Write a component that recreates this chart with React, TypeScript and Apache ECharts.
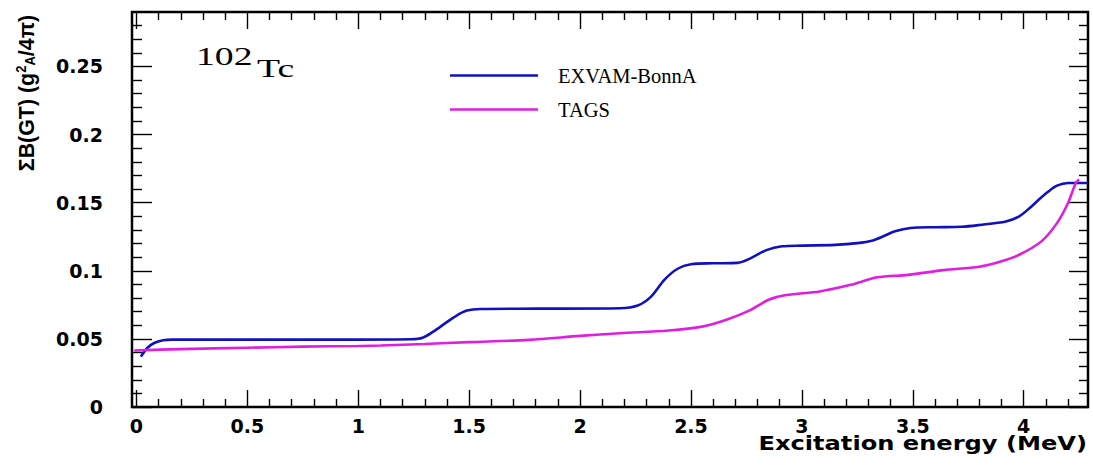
import { useEffect, useRef } from "react";
import * as echarts from "echarts";

// Cumulative Gamow-Teller strength versus excitation energy, 102Tc
const exvamBonnA: [number, number][] = [
  [0.02, 0.037], [0.05, 0.0435], [0.08, 0.047], [0.12, 0.049], [0.16, 0.0495],
  [0.5, 0.0495], [1.0, 0.0495], [1.24, 0.0497], [1.29, 0.0508], [1.34, 0.0555],
  [1.39, 0.0612], [1.44, 0.0668], [1.49, 0.0708], [1.55, 0.072], [1.8, 0.0722],
  [2.18, 0.0725], [2.26, 0.0745], [2.32, 0.081], [2.38, 0.0934], [2.44, 0.1015],
  [2.5, 0.1048], [2.6, 0.1055], [2.71, 0.1058], [2.77, 0.1093], [2.84, 0.1152],
  [2.91, 0.118], [3.0, 0.1185], [3.15, 0.119], [3.25, 0.1203], [3.32, 0.1223],
  [3.37, 0.1255], [3.42, 0.129], [3.49, 0.1314], [3.6, 0.132], [3.72, 0.1323],
  [3.8, 0.1336], [3.92, 0.1362], [3.98, 0.14], [4.03, 0.1465], [4.07, 0.1525],
  [4.11, 0.158], [4.15, 0.1625], [4.2, 0.1645], [4.29, 0.1645],
];

const tagsData: [number, number][] = [
  [-0.01, 0.0415], [0.2, 0.0425], [0.5, 0.0435], [0.75, 0.0443], [1.0, 0.0448],
  [1.1, 0.0451], [1.3, 0.0463], [1.5, 0.0476], [1.77, 0.0493], [2.0, 0.0522],
  [2.18, 0.0542], [2.4, 0.0562], [2.55, 0.059], [2.66, 0.064], [2.77, 0.0713],
  [2.85, 0.0787], [2.93, 0.0822], [3.08, 0.0848], [3.22, 0.0897], [3.34, 0.0952],
  [3.48, 0.097], [3.64, 0.1005], [3.8, 0.103], [3.9, 0.107], [3.98, 0.1118],
  [4.08, 0.1216], [4.15, 0.135], [4.2, 0.1498], [4.235, 0.1645], [4.25, 0.167],
];

const seriesNames = ["EXVAM-BonnA", "TAGS"];

const xMajorTicks = [0, 0.5, 1, 1.5, 2, 2.5, 3, 3.5, 4];
const xMinorTicks = [
  0.1, 0.2, 0.3, 0.4, 0.6, 0.7, 0.8, 0.9, 1.1, 1.2, 1.3, 1.4, 1.6, 1.7, 1.8, 1.9,
  2.1, 2.2, 2.3, 2.4, 2.6, 2.7, 2.8, 2.9, 3.1, 3.2, 3.3, 3.4, 3.6, 3.7, 3.8, 3.9,
  4.1, 4.2,
];
const yMajorTicks = [0, 0.05, 0.1, 0.15, 0.2, 0.25];
const yMinorTicks = [
  0.01, 0.02, 0.03, 0.04, 0.06, 0.07, 0.08, 0.09, 0.11, 0.12, 0.13, 0.14,
  0.16, 0.17, 0.18, 0.19, 0.21, 0.22, 0.23, 0.24, 0.26, 0.27, 0.28,
];

const X_MIN = -0.02;
const X_MAX = 4.29;
const Y_MIN = 0;
const Y_MAX = 0.29;

const tickFont = {
  fontFamily: "DejaVu Sans",
  fontWeight: "bold" as const,
  fontSize: 19,
  color: "#000",
};

function xAxisDef(
  position: "top" | "bottom",
  ticks: number[],
  length: number,
  withLabels: boolean
) {
  return {
    type: "value",
    position,
    min: X_MIN,
    max: X_MAX,
    axisLine: { show: false, onZero: false },
    splitLine: { show: false },
    axisTick: {
      show: true,
      inside: true,
      length,
      customValues: ticks,
      lineStyle: { color: "#000", width: 1.4 },
    },
    axisLabel: withLabels
      ? { show: true, customValues: ticks, margin: 9, ...tickFont }
      : { show: false },
  };
}

function yAxisDef(
  position: "left" | "right",
  ticks: number[],
  length: number,
  withLabels: boolean
) {
  return {
    type: "value",
    position,
    min: Y_MIN,
    max: Y_MAX,
    axisLine: { show: false, onZero: false },
    splitLine: { show: false },
    axisTick: {
      show: true,
      inside: true,
      length,
      customValues: ticks,
      lineStyle: { color: "#000", width: 1.4 },
    },
    axisLabel: withLabels
      ? { show: true, customValues: ticks, margin: 29, ...tickFont }
      : { show: false },
  };
}

export default function App() {
  const ref = useRef<HTMLDivElement>(null);

  useEffect(() => {
    if (!ref.current) return;
    const chart = echarts.init(ref.current, undefined, { renderer: "svg" });

    chart.setOption({
      animation: false,
      backgroundColor: "#fff",
      grid: {
        left: 132,
        right: 5,
        top: 12,
        bottom: 62,
        show: true,
        borderColor: "#000",
        borderWidth: 2.5,
      },
      legend: {
        left: 445,
        top: 60,
        orient: "vertical",
        itemWidth: 88,
        itemHeight: 2.5,
        itemGap: 13,
        icon: "rect",
        selectedMode: false,
        data: seriesNames,
        textStyle: {
          fontFamily: "Liberation Serif",
          fontSize: 20.5,
          color: "#000",
          padding: [0, 0, 0, 15],
        },
      },
      xAxis: [
        xAxisDef("bottom", xMajorTicks, 17, true),
        xAxisDef("bottom", xMinorTicks, 8, false),
        xAxisDef("top", xMajorTicks, 17, false),
        xAxisDef("top", xMinorTicks, 8, false),
      ],
      yAxis: [
        yAxisDef("left", yMajorTicks, 20, true),
        yAxisDef("left", yMinorTicks, 10, false),
        yAxisDef("right", yMajorTicks, 19, false),
        yAxisDef("right", yMinorTicks, 9, false),
      ],
      series: [
        {
          name: seriesNames[0],
          type: "line",
          data: exvamBonnA,
          xAxisIndex: 0,
          yAxisIndex: 0,
          showSymbol: false,
          smooth: 0.3,
          color: "#1010c0",
          lineStyle: { width: 2.6, color: "#1010c0" },
        },
        {
          name: seriesNames[1],
          type: "line",
          data: tagsData,
          xAxisIndex: 0,
          yAxisIndex: 0,
          showSymbol: false,
          smooth: 0.3,
          color: "#e01ee0",
          lineStyle: { width: 2.6, color: "#e01ee0" },
        },
      ],
      graphic: [
        {
          type: "text",
          x: 196,
          y: 56,
          scaleX: 1.45,
          style: {
            text: "102",
            fontFamily: "Liberation Serif",
            fontSize: 26,
            fill: "#000",
            align: "left",
            verticalAlign: "middle",
          },
        },
        {
          type: "text",
          x: 257,
          y: 68,
          scaleX: 1.45,
          style: {
            text: "Tc",
            fontFamily: "Liberation Serif",
            fontSize: 26,
            fill: "#000",
            align: "left",
            verticalAlign: "middle",
          },
        },
        {
          type: "text",
          x: 26,
          y: 93,
          rotation: Math.PI / 2,
          scaleX: 0.93,
          style: {
            text: "ΣB(GT) (g{sup|2}{sub|A}/4π)",
            fontFamily: "Liberation Sans",
            fontWeight: "bold",
            fontSize: 23,
            fill: "#000",
            align: "center",
            verticalAlign: "middle",
            rich: {
              sup: {
                fontFamily: "Liberation Sans",
                fontWeight: "bold",
                fontSize: 14,
                verticalAlign: "top",
                fill: "#000",
              },
              sub: {
                fontFamily: "Liberation Sans",
                fontWeight: "bold",
                fontSize: 14,
                verticalAlign: "bottom",
                fill: "#000",
              },
            },
          },
        },
        {
          type: "text",
          x: 1087,
          y: 443,
          scaleX: 1.27,
          style: {
            text: "Excitation energy (MeV)",
            fontFamily: "DejaVu Sans",
            fontWeight: "bold",
            fontSize: 19,
            fill: "#000",
            align: "right",
            verticalAlign: "middle",
          },
        },
      ],
    });

    return () => chart.dispose();
  }, []);

  return (
    <div
      ref={ref}
      style={{ position: "fixed", left: 0, top: 0, width: 1093, height: 469, background: "#fff" }}
    />
  );
}
